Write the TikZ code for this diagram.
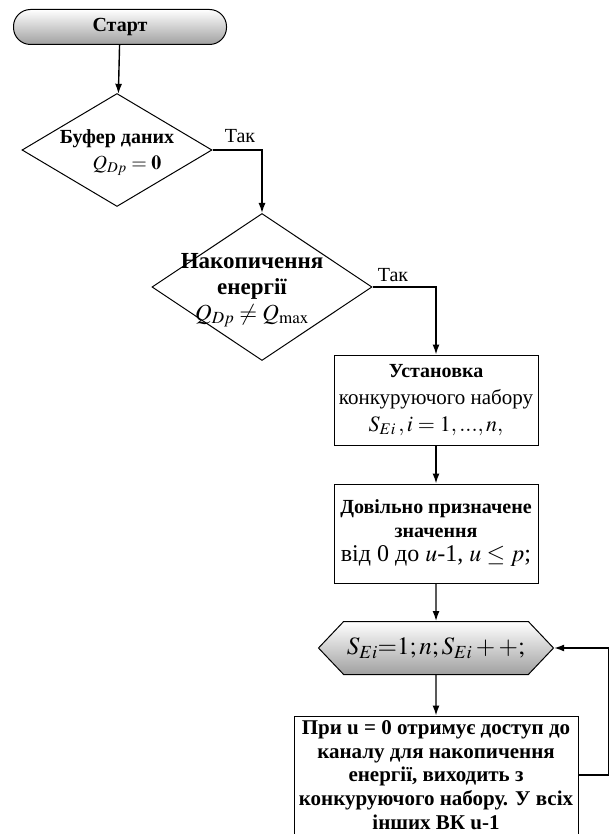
\documentclass[tikz,border=0pt]{standalone}
\usepackage{mathptmx}
\usepackage[no-math]{fontspec}
\setmainfont{Liberation Serif}
\usepackage{tikz}
\definecolor{cc}{RGB}{160, 160, 160}
\usetikzlibrary{shapes.geometric}
\usetikzlibrary{shapes.symbols}
\usetikzlibrary{arrows.meta}

\begin{document}
\begin{tikzpicture}[x=1pt, y=1pt,
every node/.style={inner sep=0pt, font=\fontsize{20}{24}\selectfont\bfseries},
term/.style={rectangle, rounded corners=17pt, draw=black, line width=1pt, top color=white, bottom color=cc},
dia/.style={diamond, draw=black, line width=1pt},
blk/.style={rectangle, draw=black, line width=1pt, align=center},
hex/.style={signal, signal to=west and east, signal pointer angle=93, draw=black, line width=1pt, top color=white, bottom color=cc},
txt/.style={align=center},
yes/.style={font=\fontsize{20}{24}\selectfont\mdseries},
arr/.style={line width=1.4pt, color=black, -{Latex[length=10pt, width=7pt]}}]
\useasboundingbox (0,0) rectangle (610,-834);
\node (1) [term, minimum width=213pt, minimum height=35pt] at (120,-27) {Старт};
\node (2) [dia, minimum width=190pt, minimum height=113pt] at (117,-150) {};
\node (2a) [txt] at (117,-139) {Буфер даних};
\node (2b) [txt] at (127,-166) {$Q_{Dp}=\mathbf{0}$};
\node (3) [dia, minimum width=220pt, minimum height=147pt] at (262,-287) {};
\node (3a) [txt, font=\fontsize{23}{26}\selectfont\bfseries] at (252,-290) {Накопичення\\енергії\\$Q_{Dp}\neq Q_{\max}$};
\node (4) [blk, minimum width=204pt, minimum height=90pt, font=\fontsize{20}{27}\selectfont\bfseries] at (436,-400) {Установка\\{\mdseries\fontsize{21}{27}\selectfont конкуруючого набору}\\{\fontsize{22}{27}\selectfont$S_{Ei}\,, i=1,...,n,$}};
\node (5) [blk, minimum width=204pt, minimum height=99pt, font=\fontsize{20}{24}\selectfont\bfseries] at (436,-533.5) {Довільно призначене\\значення\\{\mdseries\fontsize{24}{26}\selectfont від 0 до $u$-1, $u\le p$;}};
\node (6) [hex, minimum width=235pt, minimum height=53pt] at (436,-648) {\fontsize{25}{30}\selectfont$S_{Ei}{=}1; n; S_{Ei}++;$};
\node (7) [blk, minimum width=284pt, minimum height=128pt] at (436,-780) {};
\node (7a) [txt, font=\fontsize{21}{23.7}\selectfont\bfseries] at (436,-775) {При u = 0 отримує доступ до\\каналу для накопичення\\енергії, виходить з\\конкуруючого набору. У всіх\\інших ВК u-1};
\node (8) [yes] at (240,-136) {Так};
\node (9) [yes] at (393,-275) {Так};
% connectors
\draw [arr] (1) to (2);
\draw [arr] (2.east) -| (3.north);
\draw [arr] (3.east) -| (4.north);
\draw [arr] (4) to (5);
\draw [arr] (5) to (6);
\draw [arr] (6) to (7);
\draw [arr] ([yshift=5pt]7.east) -- ++(30,0) |- (6.east);
\end{tikzpicture}
\end{document}
